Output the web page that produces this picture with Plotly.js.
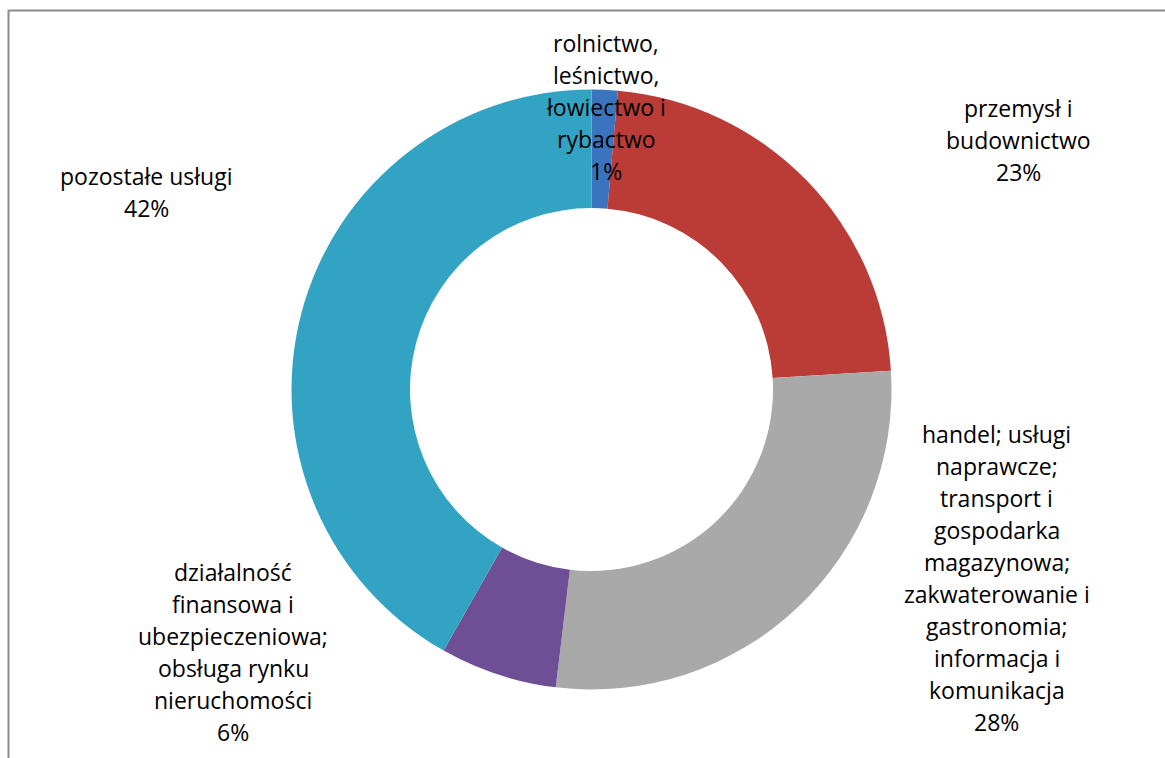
<!DOCTYPE html>
<html>
<head>
<meta charset="utf-8">
<script src="https://cdn.plot.ly/plotly-3.0.1.min.js"></script>
<style>
html,body{margin:0;padding:0;background:#fff;}
#chart{width:1165px;height:758px;}
</style>
</head>
<body>
<div id="chart"></div>
<script>
// ---- data ----
var categories = [
  'rolnictwo,\nleśnictwo,\nłowiectwo i\nrybactwo',
  'przemysł i\nbudownictwo',
  'handel; usługi\nnaprawcze;\ntransport i\ngospodarka\nmagazynowa;\nzakwaterowanie i\ngastronomia;\ninformacja i\nkomunikacja',
  'działalność\nfinansowa i\nubezpieczeniowa;\nobsługa rynku\nnieruchomości',
  'pozostałe usługi'
];
var shares = [1.4, 22.6, 27.9, 6.3, 41.8];
var colors = ['#3A74BF', '#BB3B37', '#A9A9A9', '#6E4F95', '#33A3C3'];

// label anchor (centre x, baseline of first line) in pixels
var labelPos = [
  [606, 52],
  [1018, 117],
  [997, 443],
  [233, 581],
  [146, 185]
];

var W = 1165, H = 758;
var cx = 591.5, cy = 389.5, R = 300;
var lineStep = 32;
var fontSize = 23;

var total = shares.reduce(function(a, b){ return a + b; }, 0);
var annotations = [];
categories.forEach(function(cat, i){
  var lines = cat.split('\n');
  lines.push(Math.round(shares[i] / total * 100) + '%');
  lines.forEach(function(t, j){
    var baseline = labelPos[i][1] + j * lineStep;
    annotations.push({
      xref: 'paper', yref: 'paper',
      x: labelPos[i][0] / W,
      y: 1 - (baseline - 9) / H,
      xanchor: 'center', yanchor: 'middle',
      text: t, showarrow: false,
      font: {family: 'Open Sans, sans-serif', size: fontSize, color: '#000'}
    });
  });
});

var trace = {
  type: 'pie',
  values: shares,
  labels: categories.map(function(c){ return c.replace(/\n/g, ' '); }),
  sort: false,
  direction: 'clockwise',
  rotation: 0,
  hole: 0.605,
  textinfo: 'none',
  hoverinfo: 'label+percent',
  marker: {colors: colors, line: {width: 0}},
  domain: {
    x: [(cx - R) / W, (cx + R) / W],
    y: [(H - cy - R) / H, (H - cy + R) / H]
  },
  showlegend: false
};

var layout = {
  width: W, height: H,
  margin: {l: 0, r: 0, t: 0, b: 0},
  paper_bgcolor: '#fff',
  showlegend: false,
  annotations: annotations,
  shapes: [
    {type: 'line', xref: 'paper', yref: 'paper', x0: 8.5 / W, x1: 1, y0: 1 - 10.5 / H, y1: 1 - 10.5 / H, line: {color: '#8a8a8a', width: 2}},
    {type: 'line', xref: 'paper', yref: 'paper', x0: 8.5 / W, x1: 8.5 / W, y0: 1 - 10 / H, y1: 0, line: {color: '#8a8a8a', width: 2}}
  ]
};

Plotly.newPlot('chart', [trace], layout, {displayModeBar: false, staticPlot: true});
</script>
</body>
</html>
